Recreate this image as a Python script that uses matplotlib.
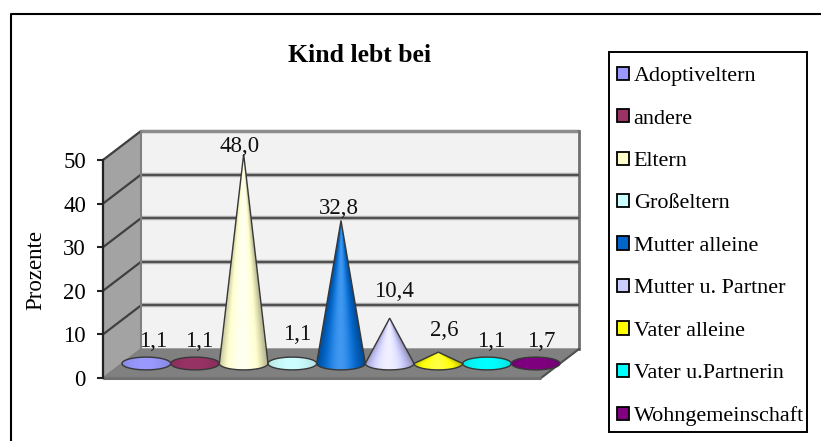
import matplotlib
matplotlib.use("Agg")
import matplotlib.pyplot as plt
import numpy as np
from matplotlib.colors import to_rgb
from matplotlib.lines import Line2D
from matplotlib.patches import Patch, Polygon, Rectangle

plt.rcParams["font.family"] = "Liberation Serif"

title = "Kind lebt bei"
ylabel = "Prozente"
categories = ["Adoptiveltern", "andere", "Eltern", "Großeltern", "Mutter alleine",
              "Mutter u. Partner", "Vater alleine", "Vater u.Partnerin", "Wohngemeinschaft"]
values = [1.1, 1.1, 48.0, 1.1, 32.8, 10.4, 2.6, 1.1, 1.7]
value_labels = ["1,1", "1,1", "48,0", "1,1", "32,8", "10,4", "2,6", "1,1", "1,7"]
colors = ["#9999ff", "#993366", "#ffffcc", "#ccffff", "#0066cc",
          "#ccccff", "#ffff00", "#00ffff", "#800080"]
yticks = [0, 10, 20, 30, 40, 50]

# label offset from the cone tip, in pixels
label_dx = [7, 4, -4, 5, -2, 4, 6, 4, 6]
label_dy = [12, 12, 2, 19, 6, 21, 16, 12, 9]

W, H = 821, 441
fig = plt.figure(figsize=(W / 100, H / 100), dpi=100)

# depth of the box in data units
DX = 38 / (438 / 9)
DY = 29 / (218 / 50)

# x in categories, y in percent; the axes also spans the box depth so cones are not cropped
ax = fig.add_axes([103 / W, 1 - 378 / H, (438 + 38) / W, 218 / H])
ax.set_xlim(0, 9 + DX)
ax.set_ylim(0, 50)

# walls and floor
ax.add_patch(Polygon([(DX, DY), (9 + DX, DY), (9 + DX, 50 + DY), (DX, 50 + DY)],
                     fc="#f2f2f2", ec="none", zorder=1, clip_on=False))
ax.add_patch(Polygon([(0, 0), (DX, DY), (DX, 50 + DY), (0, 50)],
                     fc="#a3a3a3", ec="#808080", lw=1, zorder=1.5, clip_on=False))
ax.add_patch(Polygon([(0, 0), (9, 0), (9 + DX, DY), (DX, DY)],
                     fc="#808080", ec="#808080", lw=1, zorder=1.5, clip_on=False))

# gridlines run along the side wall and the back wall
for tick in yticks[1:]:
    ax.plot([0, DX], [tick, tick + DY], color="#404040", lw=1.6, zorder=2,
            solid_capstyle="butt", clip_on=False)
    if tick < 50:
        ax.plot([DX, 9 + DX], [tick + DY, tick + DY], color="#b0b0b0", lw=3.2, zorder=2,
                solid_capstyle="butt", clip_on=False)
        ax.plot([DX, 9 + DX], [tick + DY, tick + DY], color="#505050", lw=1.5,
                zorder=2.1, solid_capstyle="butt", clip_on=False)
    else:
        ax.plot([DX, 9 + DX], [tick + DY, tick + DY], color="#8c8c8c", lw=2.5, zorder=2,
                solid_capstyle="butt", clip_on=False)
ax.plot([DX, DX], [DY, 50 + DY], color="#808080", lw=1.5, zorder=2.1, clip_on=False)
ax.plot([9 + DX, 9 + DX], [DY, 50 + DY], color="#707070", lw=2, zorder=2, clip_on=False)
ax.plot([9, 9 + DX], [0, DY], color="#505050", lw=1.5, zorder=2.2, clip_on=False)
ax.plot([0, 9], [0, 0], color="#707070", lw=2.2, zorder=2.2, solid_capstyle="butt",
        clip_on=False)

# cones stand halfway back on the floor
rx = 0.5
ry = DY * 0.22
t = np.linspace(0, np.pi, 40)
for i, (v, c) in enumerate(zip(values, colors)):
    cx = i + 0.5 + DX / 2
    cy = DY / 2
    flat = v < ry * 1.2
    # lower half of the base ellipse, closed over the top when the cone is flat
    low_x = cx + rx * np.cos(t)
    low_y = cy - ry * np.sin(t)
    if flat:
        top_y = cy + ry * np.sin(t)
        verts = np.r_[np.c_[low_x, low_y], np.c_[low_x[::-1], top_y[::-1]]]
    else:
        verts = np.r_[np.c_[low_x, low_y], [[cx, cy + v]]]
    ax.add_patch(Polygon(verts, closed=True, fc="none", ec="#383838", lw=1.0, zorder=4,
                         clip_on=False))

    # shading follows the cone: bright near the middle, dark towards the rim
    y0, y1 = cy - ry, cy + max(v, ry)
    xs = np.linspace(cx - rx, cx + rx, 96)
    ys = np.linspace(y0, y1, 240)
    gx, gy = np.meshgrid(xs, ys)
    if flat:
        half = rx
    else:
        half = np.clip(rx * (1 - (gy - cy) / v), 0.02, rx)
    u = np.clip((gx - cx) / half, -1, 1)
    light = np.clip(1 - (u + 0.05) ** 2, 0, 1)
    if flat:
        shade = 0.88 + 0.12 * light
        glow = np.zeros_like(light)
    else:
        shade = 0.72 + 0.43 * light
        glow = 0.25 * light ** 4
    rgb = np.clip(np.array(to_rgb(c))[None, None, :] * shade[:, :, None], 0, 1)
    rgb = rgb + (1 - rgb) * glow[:, :, None]
    im = ax.imshow(rgb, extent=[cx - rx, cx + rx, y0, y1], origin="lower",
                   aspect="auto", zorder=3, interpolation="bilinear")
    im.set_clip_path(Polygon(verts, closed=True, transform=ax.transData))

    ax.annotate(value_labels[i], (cx, cy + v), xytext=(label_dx[i], label_dy[i]),
                textcoords="offset pixels", ha="center", va="baseline",
                fontsize=16.5, color="#111111", zorder=6, annotation_clip=False)

ax.set_xlim(0, 9 + DX)
ax.set_ylim(0, 50)
ax.patch.set_visible(False)

# only the value axis is drawn
for s in ["top", "right", "bottom"]:
    ax.spines[s].set_visible(False)
ax.spines["left"].set_linewidth(1.6)
ax.spines["left"].set_color("#222222")
ax.set_xticks([])
ax.set_yticks(yticks)
ax.tick_params(axis="y", length=4.3, width=1.5, pad=8, labelsize=16.5, color="#222222")
ax.set_ylabel(ylabel, fontsize=16.5)
ax.yaxis.set_label_coords((46 - 103) / 476, (378 - 270) / 218)

fig.text(359.5 / W, 1 - 55 / H, title, ha="center", va="center",
         fontsize=18.5, fontweight="bold")

# outer chart frame, only the top and left edges fall inside the figure
fig.add_artist(Line2D([11 / W, 11 / W, 1], [0, 1 - 14 / H, 1 - 14 / H],
                      color="black", lw=1.5))

# legend box is drawn on its own so the rows can sit unevenly inside it
fig.add_artist(Rectangle((609 / W, 1 - 432 / H), 198 / W, 380 / H, fc="white",
                         ec="black", lw=1.4, transform=fig.transFigure))
handles = [Patch(fc=c, ec="black", lw=1.3) for c in colors]
leg = fig.legend(handles, categories, loc="upper left",
                 bbox_to_anchor=(609 / W, 1 - 59 / H), bbox_transform=fig.transFigure,
                 fontsize=15.9, frameon=False, borderaxespad=0,
                 borderpad=0.35, labelspacing=1.04, handlelength=0.55, handleheight=0.55,
                 handletextpad=0.22)

fig.savefig("out.png", dpi=100)
